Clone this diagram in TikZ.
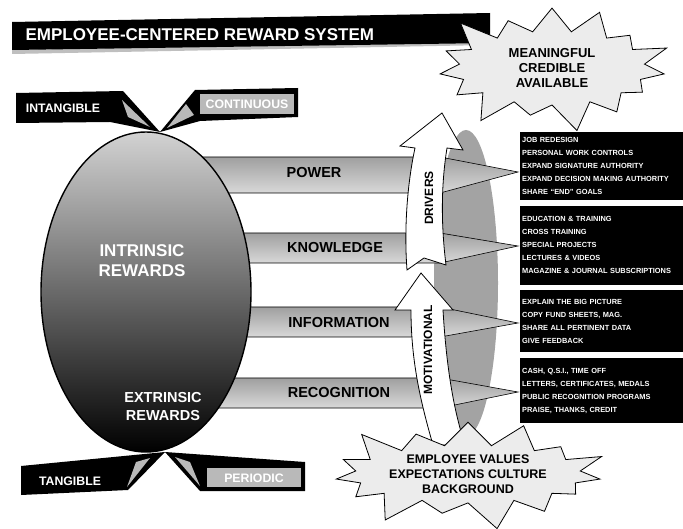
\documentclass[tikz,border=0pt]{standalone}
\usepackage{fontspec}
\setmainfont{Liberation Sans}
\usetikzlibrary{shapes.geometric,shapes.symbols,positioning}

\begin{document}
\begin{tikzpicture}[x=1pt,y=-1pt,
  bar/.style={draw=black,line width=0.6pt,top color=gray!75,bottom color=gray!30},
  bartext/.style={font=\fontsize{14.5}{16}\selectfont\bfseries},
  tagtext/.style={font=\fontsize{12.3}{14}\selectfont\bfseries,text=white},
  rewtext/.style={font=\fontsize{17}{20}\selectfont\bfseries,text=white,align=center},
  listbox/.style={fill=black,text=white,anchor=north west,minimum width=163pt,text width=159pt,align=left,inner xsep=2pt,font=\fontsize{7.4}{13}\selectfont\bfseries},
  burst/.style={starburst,starburst points=15,starburst point height=32pt,draw=black,fill=gray!15,line width=0.8pt,align=center,inner sep=1pt},
  arcarrow/.style={draw=black,fill=white,line width=0.8pt}]
\useasboundingbox (0,0) rectangle (683,529);

% title bar
\fill[gray!50] (12,50) -- (490,41) -- (490,45) -- (12,54) -- cycle;
\fill[black] (12,22) -- (490,13) -- (490,43) -- (12,50) -- cycle;
\node[anchor=west,text=white,font=\fontsize{17}{20}\selectfont\bfseries] (title) at (22,35) {EMPLOYEE-CENTERED REWARD SYSTEM};

% ring behind the drivers
\fill[gray!72] (466,283) ellipse [x radius=32, y radius=153];

% bars
\draw[bar] (150,157) -- (440,157) -- (518,172) -- (440,193) -- (150,193) -- cycle;
\draw[bar] (150,233) -- (440,233) -- (518,246) -- (440,263) -- (150,263) -- cycle;
\draw[bar] (150,307) -- (440,307) -- (518,323) -- (440,337) -- (150,337) -- cycle;
\draw[bar] (150,378) -- (440,378) -- (518,392) -- (440,408) -- (150,408) -- cycle;
\node[bartext] (pow) at (314,173) {POWER};
\node[bartext] (knw) at (335,248) {KNOWLEDGE};
\node[bartext] (inf) at (339,323) {INFORMATION};
\node[bartext] (rec) at (339,393) {RECOGNITION};

% drivers / motivational arrows
\draw[arcarrow] (407,270) -- (424,258) -- (446,265) .. controls (441,225) and (441,185) .. (447,148) -- (463,150) -- (442,113) -- (400,146) -- (415,148) .. controls (407,185) and (404,230) .. (407,270) -- cycle;
\draw[arcarrow] (421,273) -- (453,310) -- (443,310) .. controls (446,360) and (452,405) .. (465,445) -- (433,445) .. controls (420,400) and (411,360) .. (411,310) -- (395,310) -- cycle;
\node[rotate=90,font=\fontsize{12}{14}\selectfont\bfseries] (drv) at (429,198) {DRIVERS};
\node[rotate=90,font=\fontsize{12}{14}\selectfont\bfseries] (mot) at (428,350) {MOTIVATIONAL};

% reward ellipse
\node[draw=black,line width=1.4pt,ellipse,minimum width=210pt,minimum height=320pt,top color=gray!35,middle color=gray!60,bottom color=black] (rew) at (146,292) {};
\node[rewtext] (intr) at (142,261) {INTRINSIC\\REWARDS};
\node[rewtext,font=\fontsize{14.5}{18}\selectfont\bfseries] (extr) at (163,407) {EXTRINSIC\\REWARDS};

% callouts
\coordinate (toptip) at (160,132);
\coordinate (bottip) at (165,452);
\fill[black] (16,93) -- (123,91) -- (toptip) -- (110,122) -- (16,123) -- cycle;
\fill[gray!55] (122,100) -- (150,127) -- (128,117) -- cycle;
\fill[black] (toptip) -- (195,90) -- (298,88) -- (298,117) -- (200,121) -- cycle;
\fill[gray!55] (200,94) rectangle (294,114);
\fill[gray!55] (186,104) -- (167,128) -- (194,115) -- cycle;
\node[tagtext] (intg) at (63,108) {INTANGIBLE};
\node[tagtext] (cont) at (247,104) {CONTINUOUS};
\fill[black] (21,466) -- (bottip) -- (128,490) -- (21,495) -- cycle;
\fill[gray!55] (150,458) -- (127,487) -- (136,462) -- cycle;
\fill[black] (bottip) -- (305,462) -- (305,491) -- (200,491) -- cycle;
\fill[gray!55] (207,468) rectangle (301,487);
\fill[gray!55] (175,457) -- (200,486) -- (190,462) -- cycle;
\node[tagtext] (tang) at (70,481) {TANGIBLE};
\node[tagtext] (peri) at (254,478) {PERIODIC};

% action lists
\node[listbox,minimum height=68pt] (box1) at (520,132) {JOB REDESIGN\\PERSONAL WORK CONTROLS\\EXPAND SIGNATURE AUTHORITY\\EXPAND DECISION MAKING AUTHORITY\\SHARE ``END'' GOALS};
\node[listbox,minimum height=79pt,below=5pt of box1.south west,anchor=north west] (box2) {EDUCATION \& TRAINING\\CROSS TRAINING\\SPECIAL PROJECTS\\LECTURES \& VIDEOS\\MAGAZINE \& JOURNAL SUBSCRIPTIONS};
\node[listbox,minimum height=62pt,below=5pt of box2.south west,anchor=north west] (box3) {EXPLAIN THE BIG PICTURE\\COPY FUND SHEETS, MAG.\\SHARE ALL PERTINENT DATA\\GIVE FEEDBACK};
\node[listbox,minimum height=65pt,below=6pt of box3.south west,anchor=north west] (box4) {CASH, Q.S.I., TIME OFF\\LETTERS, CERTIFICATES, MEDALS\\PUBLIC RECOGNITION PROGRAMS\\PRAISE, THANKS, CREDIT};

% starbursts
\node[burst,minimum width=250pt,minimum height=138pt,font=\fontsize{13}{15}\selectfont\bfseries] (mca) at (552,68) {MEANINGFUL\\CREDIBLE\\AVAILABLE};
\node[burst,minimum width=190pt,minimum height=118pt,font=\fontsize{12.5}{15}\selectfont\bfseries] (evc) at (468,474) {EMPLOYEE VALUES\\EXPECTATIONS CULTURE\\BACKGROUND};
\end{tikzpicture}
\end{document}
